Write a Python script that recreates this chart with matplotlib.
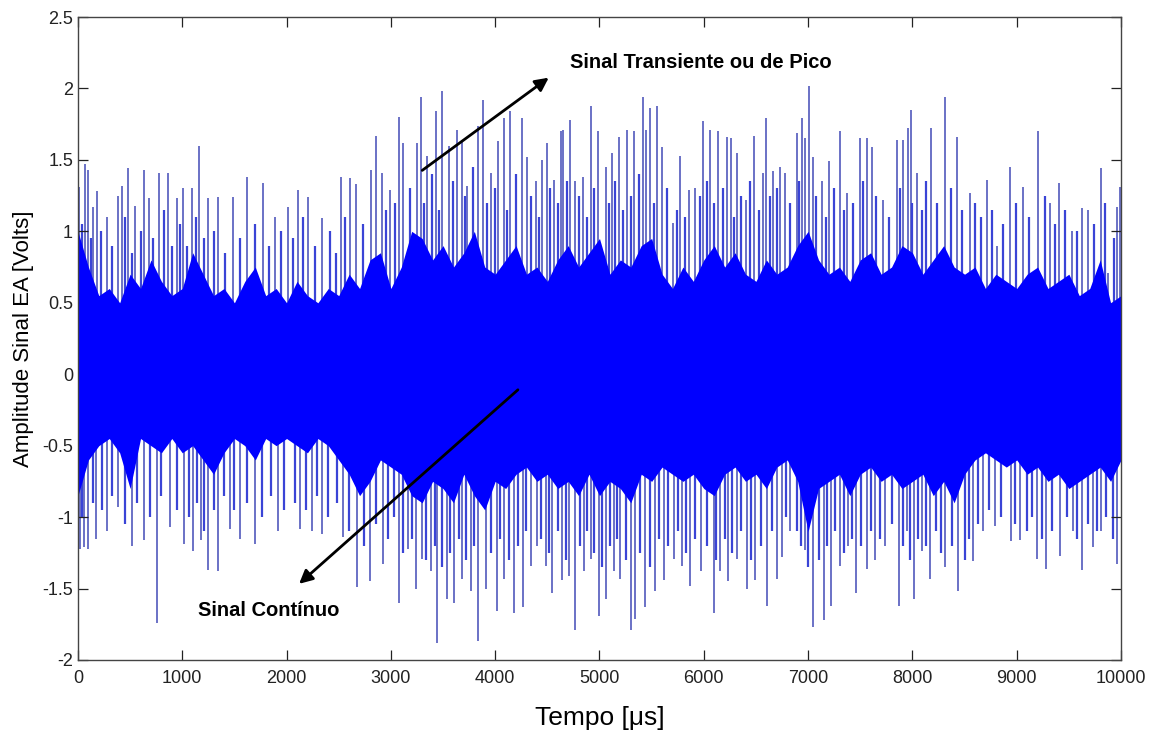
import matplotlib
matplotlib.use('Agg')
import matplotlib.pyplot as plt
from matplotlib.ticker import FixedLocator, FuncFormatter

plt.rcParams['font.family'] = ['Liberation Sans', 'DejaVu Sans']
plt.rcParams['axes.unicode_minus'] = False

# --- solid core of the signal (read every 100 us) ---
core_t = list(range(0, 10001, 100))
core_hi = [1.0, 0.75, 0.55, 0.6, 0.5, 0.7, 0.6, 0.8, 0.65, 0.55,
           0.6, 0.85, 0.7, 0.55, 0.6, 0.5, 0.65, 0.75, 0.55, 0.6,
           0.5, 0.65, 0.55, 0.5, 0.6, 0.55, 0.7, 0.6, 0.8, 0.85,
           0.6, 0.75, 1.0, 0.95, 0.8, 0.9, 0.75, 0.85, 1.0, 0.75,
           0.7, 0.8, 0.9, 0.7, 0.75, 0.65, 0.8, 0.9, 0.75, 0.85,
           0.95, 0.7, 0.8, 0.75, 0.9, 0.95, 0.7, 0.6, 0.75, 0.65,
           0.8, 0.9, 0.75, 0.85, 0.7, 0.65, 0.8, 0.7, 0.75, 0.9,
           1.0, 0.8, 0.7, 0.75, 0.65, 0.8, 0.85, 0.7, 0.75, 0.9,
           0.85, 0.7, 0.8, 0.9, 0.75, 0.7, 0.75, 0.6, 0.7, 0.65,
           0.6, 0.7, 0.75, 0.6, 0.65, 0.7, 0.55, 0.6, 0.8, 0.5,
           0.55]
core_lo = [-0.85, -0.6, -0.5, -0.45, -0.55, -0.8, -0.45, -0.5, -0.55, -0.45,
           -0.55, -0.5, -0.6, -0.7, -0.55, -0.45, -0.5, -0.6, -0.45, -0.5,
           -0.45, -0.5, -0.55, -0.45, -0.5, -0.6, -0.7, -0.85, -0.75, -0.6,
           -0.65, -0.7, -0.85, -0.9, -0.75, -0.8, -0.9, -0.7, -0.85, -0.95,
           -0.75, -0.8, -0.7, -0.65, -0.75, -0.7, -0.8, -0.75, -0.85, -0.7,
           -0.85, -0.75, -0.8, -0.9, -0.7, -0.75, -0.65, -0.7, -0.75, -0.7,
           -0.8, -0.85, -0.7, -0.65, -0.75, -0.7, -0.8, -0.65, -0.6, -0.75,
           -1.1, -0.8, -0.75, -0.7, -0.85, -0.7, -0.65, -0.75, -0.7, -0.8,
           -0.75, -0.7, -0.85, -0.75, -0.9, -0.7, -0.6, -0.55, -0.6, -0.65,
           -0.6, -0.7, -0.65, -0.75, -0.7, -0.8, -0.75, -0.7, -0.65, -0.75,
           -0.6]

# --- tall positive peaks ---
up_t = [10, 67, 99, 147, 179, 275, 386, 425, 482, 546, 633, 681, 780, 866, 946,
        1003, 1089, 1163, 1249, 1345, 1482, 1623, 1776, 1888, 2016, 2112, 2208,
        2335, 2518, 2607, 2664, 2805, 2853, 2911, 2990, 3080, 3121, 3255, 3287,
        3351, 3430, 3494, 3558, 3632, 3686, 3734, 3836, 3887, 3957, 4027, 4085,
        4139, 4260, 4308, 4388, 4451, 4499, 4563, 4627, 4652, 4716, 4770, 4844,
        4914, 4984, 5058, 5121, 5185, 5265, 5329, 5415, 5447, 5482, 5552, 5600,
        5705, 5775, 5855, 5919, 5992, 6062, 6132, 6221, 6260, 6320, 6407, 6477,
        6571, 6598, 6667, 6731, 6779, 6891, 6939, 6970, 7009, 7050, 7130, 7204,
        7306, 7376, 7498, 7568, 7610, 7722, 7849, 7913, 7955, 7987, 8041, 8175,
        8313, 8425, 8553, 8712, 8808, 8936, 9064, 9208, 9320, 9406, 9527, 9623,
        9687, 9805, 9879, 9959, 9991]
up_v = [1.31, 1.47, 1.43, 1.17, 1.28, 1.10, 1.25, 1.32, 1.44, 1.18, 1.43, 1.23,
        1.41, 1.41, 1.23, 1.30, 1.30, 1.60, 1.23, 1.24, 1.24, 1.38, 1.34, 1.10,
        1.17, 1.29, 1.24, 1.09, 1.38, 1.37, 1.33, 1.43, 1.67, 1.41, 1.29, 1.80,
        1.62, 1.62, 1.94, 1.53, 1.84, 1.98, 1.60, 1.71, 1.64, 1.32, 1.74, 1.92,
        1.41, 1.63, 1.79, 1.84, 1.79, 1.52, 1.35, 1.50, 1.62, 1.36, 1.70, 1.71,
        1.78, 1.35, 1.38, 1.88, 1.70, 1.45, 1.55, 1.66, 1.71, 1.70, 1.94, 1.71,
        1.86, 1.88, 1.59, 1.06, 1.53, 1.29, 1.30, 1.77, 1.71, 1.70, 1.66, 1.65,
        1.55, 1.22, 1.67, 1.41, 1.79, 1.42, 1.45, 1.41, 1.69, 1.79, 1.65, 2.02,
        1.52, 1.35, 1.49, 1.70, 1.27, 1.65, 1.65, 1.59, 1.22, 1.64, 1.64, 1.72,
        1.85, 1.41, 1.72, 1.94, 1.66, 1.27, 1.36, 0.90, 1.45, 1.31, 1.70, 1.20,
        1.34, 1.00, 1.16, 1.15, 1.44, 0.71, 1.17, 1.31]

# --- medium positive peaks ---
mid_up_t = [35, 125, 225, 330, 455, 515, 600, 720, 825, 905, 975, 1045, 1130,
            1205, 1300, 1410, 1550, 1700, 1830, 1950, 2060, 2160, 2270, 2420,
            2470, 2560, 2730, 2950, 3040, 3180, 3320, 3390, 3460, 3600, 3710,
            3790, 3920, 4000, 4110, 4200, 4340, 4420, 4530, 4600, 4690, 4800,
            4880, 4950, 5090, 5150, 5230, 5300, 5380, 5520, 5650, 5740, 5820,
            5960, 6030, 6100, 6180, 6290, 6360, 6440, 6530, 6630, 6700, 6830,
            6910, 7080, 7170, 7250, 7340, 7430, 7530, 7650, 7780, 7880, 8000,
            8090, 8130, 8240, 8370, 8480, 8600, 8660, 8760, 8870, 8990, 9120,
            9270, 9370, 9460, 9580, 9740, 9850, 9930]
mid_up_v = [1.05, 0.95, 1.0, 0.9, 1.1, 0.85, 1.0, 0.95, 1.15, 0.9, 1.05, 0.9,
            1.1, 0.95, 1.0, 0.85, 0.95, 1.05, 0.9, 1.0, 0.95, 1.1, 0.9, 1.0,
            0.85, 1.1, 1.05, 1.15, 1.2, 1.3, 1.2, 1.4, 1.15, 1.35, 1.25, 1.45,
            1.2, 1.3, 1.15, 1.4, 1.25, 1.1, 1.3, 1.2, 1.35, 1.25, 1.1, 1.3,
            1.2, 1.35, 1.15, 1.25, 1.4, 1.2, 1.3, 1.15, 1.1, 1.25, 1.35, 1.2,
            1.3, 1.1, 1.25, 1.35, 1.15, 1.25, 1.3, 1.2, 1.35, 1.25, 1.1, 1.3,
            1.15, 1.2, 1.35, 1.25, 1.1, 1.3, 1.2, 1.15, 1.35, 1.2, 1.3, 1.15,
            1.2, 1.1, 1.15, 1.05, 1.2, 1.1, 1.25, 1.05, 1.15, 1.0, 1.05, 1.2,
            0.95]

# --- tall negative peaks ---
dn_t = [19, 58, 99, 173, 281, 380, 514, 633, 754, 882, 1019, 1105, 1176, 1249,
        1345, 1457, 1553, 1696, 1920, 2128, 2240, 2335, 2543, 2677, 2799, 2927,
        3080, 3160, 3239, 3303, 3383, 3447, 3536, 3606, 3686, 3766, 3839, 3909,
        4014, 4085, 4180, 4266, 4340, 4404, 4484, 4547, 4643, 4707, 4770, 4850,
        4914, 4994, 5058, 5137, 5201, 5303, 5345, 5440, 5530, 5616, 5712, 5791,
        5871, 5973, 6094, 6158, 6231, 6317, 6413, 6493, 6609, 6700, 6747, 6827,
        6970, 7044, 7153, 7217, 7306, 7386, 7459, 7568, 7642, 7738, 7875, 7945,
        8019, 8089, 8169, 8313, 8441, 8585, 8680, 8792, 8942, 9032, 9192, 9281,
        9415, 9543, 9623, 9729, 9805, 9959]
dn_v = [-1.22, -1.21, -1.22, -1.15, -1.10, -0.93, -1.20, -1.16, -1.74, -1.07,
        -1.19, -1.24, -1.16, -1.37, -1.38, -1.08, -1.15, -1.19, -1.10, -1.08,
        -1.10, -1.12, -1.14, -1.49, -1.45, -1.33, -1.60, -1.22, -1.50, -1.29,
        -1.38, -1.88, -1.57, -1.60, -1.43, -1.52, -1.87, -1.50, -1.66, -1.43,
        -1.67, -1.63, -1.34, -1.20, -1.34, -1.53, -1.44, -1.41, -1.79, -1.38,
        -1.29, -1.69, -1.57, -1.38, -1.43, -1.79, -1.71, -1.63, -1.52, -1.44,
        -1.29, -1.34, -1.48, -1.38, -1.67, -1.38, -1.45, -1.29, -1.50, -1.44,
        -1.62, -1.43, -1.28, -1.10, -1.23, -1.77, -1.72, -1.62, -1.34, -1.20,
        -1.53, -1.36, -1.30, -1.20, -1.62, -1.10, -1.57, -1.24, -1.43, -1.35,
        -1.52, -1.31, -1.10, -1.06, -1.17, -1.16, -1.29, -1.36, -1.27, -1.10,
        -1.37, -1.21, -1.10, -1.33]

# --- medium negative peaks ---
mid_dn_t = [40, 140, 230, 330, 450, 570, 690, 800, 950, 1060, 1140, 1210, 1300,
            1400, 1500, 1620, 1760, 1850, 1980, 2080, 2190, 2290, 2400, 2480,
            2600, 2740, 2860, 2970, 3030, 3120, 3200, 3340, 3420, 3490, 3570,
            3650, 3720, 3800, 3960, 4050, 4130, 4220, 4300, 4440, 4520, 4600,
            4680, 4810, 4880, 4950, 5020, 5100, 5170, 5250, 5390, 5480, 5570,
            5660, 5750, 5830, 5920, 6030, 6120, 6200, 6270, 6360, 6450, 6550,
            6650, 6790, 6890, 6930, 7000, 7100, 7180, 7260, 7340, 7420, 7510,
            7600, 7690, 7800, 7910, 7980, 8050, 8130, 8230, 8270, 8380, 8500,
            8540, 8630, 8730, 8850, 8980, 9100, 9150, 9240, 9340, 9480, 9580,
            9680, 9770, 9860, 9920]
mid_dn_v = [-1.0, -0.9, -0.95, -0.85, -1.05, -0.9, -1.0, -0.85, -0.95, -1.0,
            -0.9, -1.1, -0.95, -0.85, -0.95, -0.9, -1.0, -0.85, -0.95, -0.9,
            -0.95, -0.85, -1.0, -0.9, -1.1, -1.2, -1.05, -1.15, -1.0, -1.25,
            -1.15, -1.3, -1.2, -1.35, -1.25, -1.15, -1.3, -1.2, -1.25, -1.15,
            -1.3, -1.2, -1.1, -1.15, -1.25, -1.1, -1.3, -1.2, -1.1, -1.25,
            -1.35, -1.2, -1.15, -1.3, -1.25, -1.35, -1.15, -1.2, -1.1, -1.25,
            -1.15, -1.2, -1.3, -1.15, -1.25, -1.1, -1.3, -1.2, -1.1, -1.0,
            -1.1, -1.2, -1.35, -1.3, -1.2, -1.1, -1.25, -1.15, -1.2, -1.1,
            -1.15, -1.05, -1.2, -1.3, -1.15, -1.2, -1.1, -1.25, -1.2, -1.3,
            -1.15, -1.05, -0.95, -1.0, -1.05, -1.1, -1.0, -1.15, -1.1, -1.0,
            -1.15, -1.05, -1.1, -1.0, -1.15]

x_ticks = list(range(0, 10001, 1000))
y_ticks = [-2, -1.5, -1, -0.5, 0, 0.5, 1, 1.5, 2, 2.5]

fig = plt.figure(figsize=(11.6, 7.33), dpi=100)
ax = fig.add_axes([0.0672, 0.0996, 0.8992, 0.8772])

ax.vlines(up_t, 0, up_v, color='#5f66c2', linewidth=1.3, zorder=1)
ax.vlines(dn_t, dn_v, 0, color='#5f66c2', linewidth=1.3, zorder=1)
ax.vlines(mid_up_t, 0, mid_up_v, color='#3a44d6', linewidth=1.6, zorder=1)
ax.vlines(mid_dn_t, mid_dn_v, 0, color='#3a44d6', linewidth=1.6, zorder=1)
ax.fill_between(core_t, core_lo, core_hi, color='#0000ff', linewidth=0, zorder=2)

ax.set_xlim(0, 10000)
ax.set_ylim(-2, 2.5)
ax.xaxis.set_major_locator(FixedLocator(x_ticks))
ax.yaxis.set_major_locator(FixedLocator(y_ticks))
ax.yaxis.set_major_formatter(FuncFormatter(lambda v, p: f'{v:g}'))
ax.tick_params(direction='in', length=7, width=0.9, top=True, right=True,
               labelsize=13, colors='#222222')
ax.tick_params(axis='x', pad=7)
for s in ax.spines.values():
    s.set_color('#444444')
    s.set_linewidth(1.0)

ax.set_xlabel('Tempo [\u03bcs]', fontsize=19, labelpad=14)
ax.set_ylabel('Amplitude Sinal EA [Volts]', fontsize=16, labelpad=6)

ax.annotate('', xy=(4535, 2.087), xytext=(3279, 1.415),
            arrowprops=dict(arrowstyle='-|>', color='black', lw=2,
                            mutation_scale=20), zorder=5)
ax.annotate('', xy=(2100, -1.48), xytext=(4238, -0.096),
            arrowprops=dict(arrowstyle='-|>', color='black', lw=2,
                            mutation_scale=20), zorder=5)
ax.text(4717, 2.185, 'Sinal Transiente ou de Pico', fontsize=14.5,
        fontweight='bold', va='center', ha='left', zorder=6)
ax.text(1150, -1.657, 'Sinal Cont\u00ednuo', fontsize=14.5,
        fontweight='bold', va='center', ha='left', zorder=6)

fig.savefig('out.png', dpi=100)
